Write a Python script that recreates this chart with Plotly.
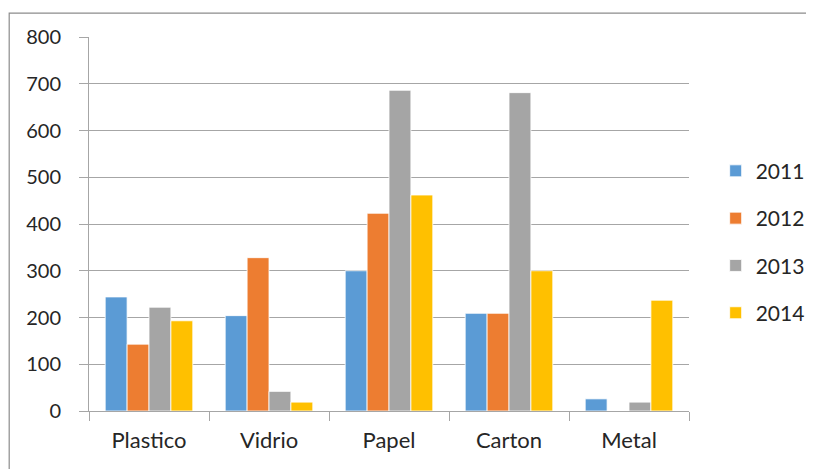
import plotly.graph_objects as go

categories = ["Plastico", "Vidrio", "Papel", "Carton", "Metal"]
years = ["2011", "2012", "2013", "2014"]
v2011 = [244, 204, 300, 209, 26]
v2012 = [143, 328, 423, 209, 0]
v2013 = [222, 42, 686, 681, 19]
v2014 = [193, 19, 462, 300, 237]
colors = ["#5B9BD5", "#ED7D31", "#A5A5A5", "#FFC000"]
yticks = [0, 100, 200, 300, 400, 500, 600, 700, 800]

FONT = "Lato, Open Sans, sans-serif"
fig = go.Figure()
for name, vals, col in zip(years, [v2011, v2012, v2013, v2014], colors):
    fig.add_trace(go.Bar(x=categories, y=vals, name=name, legendgroup=name,
                         marker=dict(color=col, line=dict(color="white", width=0.8))))

W, H = 806, 461
L, T = 81, 29
R = W - (L + 600)
B = H - (T + 374)
fig.update_layout(
    width=W, height=H, autosize=False,
    margin=dict(l=L, r=R, t=T, b=B),
    paper_bgcolor="white", plot_bgcolor="white",
    font=dict(family=FONT, size=20, color="#262626"),
    barmode="group", bargap=0.27, bargroupgap=0,
    showlegend=True,
    legend=dict(xref="container", yref="container", x=0.878, y=0.492,
                xanchor="left", yanchor="middle",
                tracegroupgap=17, font=dict(size=21), itemwidth=30,
                bgcolor="rgba(0,0,0,0)"),
    shapes=[dict(type="rect", xref="paper", yref="paper",
                 x0=-0.133, y0=-0.2, x1=1.25, y1=1.064,
                 line=dict(color="#8c8c8c", width=1.2), layer="below")],
)
fig.update_xaxes(showline=True, linecolor="#a6a6a6", linewidth=1,
                 ticks="outside", ticklen=9, tickcolor="#a6a6a6",
                 tickson="boundaries", showgrid=False,
                 tickfont=dict(size=22), ticklabelstandoff=10)
fig.update_yaxes(range=[0, 800], tickvals=yticks, showline=True,
                 linecolor="#a6a6a6", linewidth=1,
                 ticks="outside", ticklen=9, tickcolor="#a6a6a6",
                 gridcolor="#a6a6a6", gridwidth=1, zeroline=False,
                 tickfont=dict(size=20), ticklabelstandoff=14)
fig.write_html("out.html")
